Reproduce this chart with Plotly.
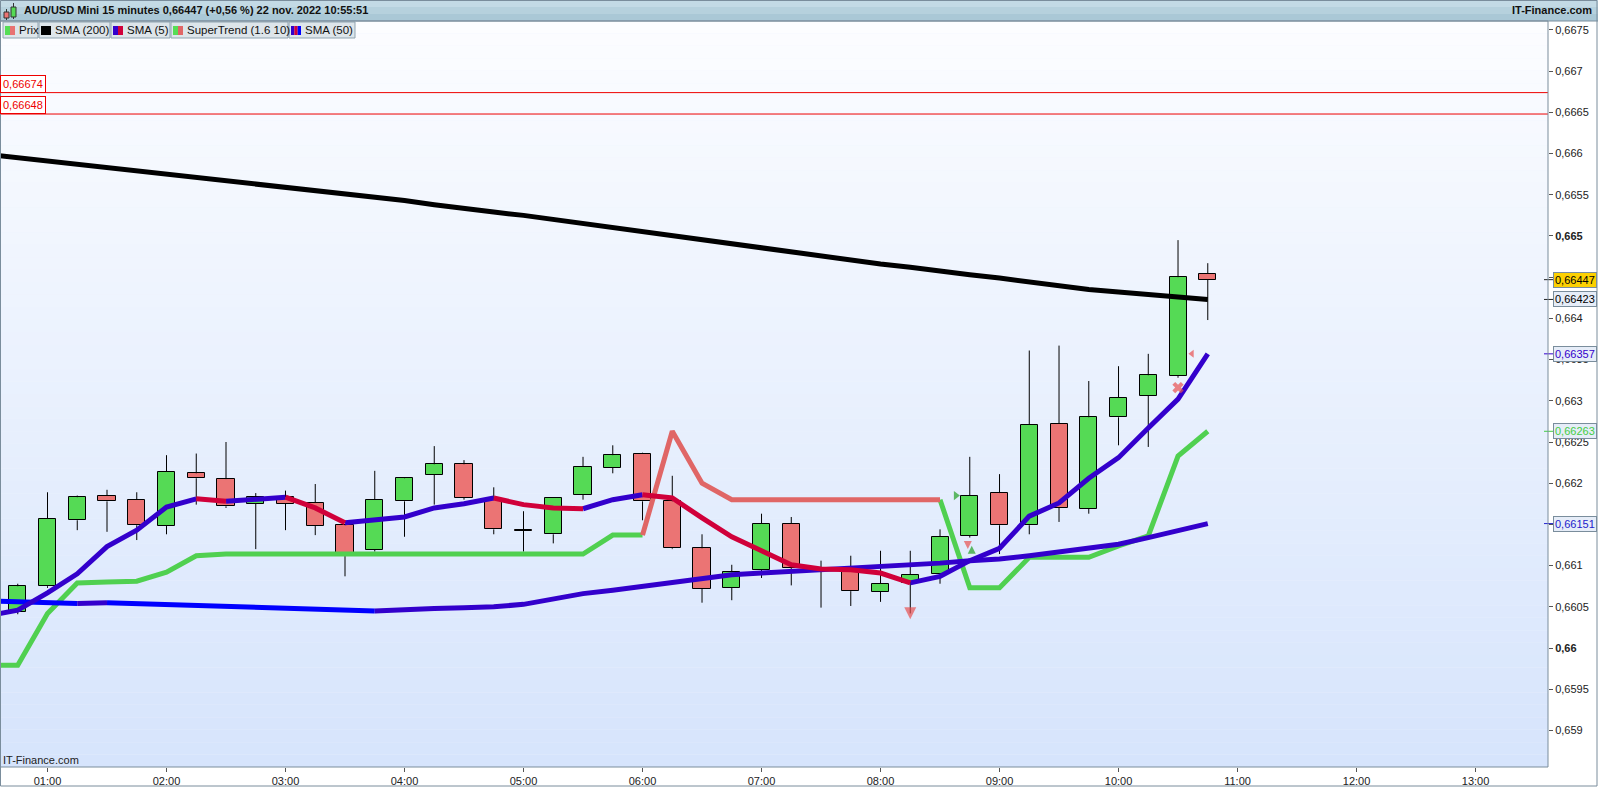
import plotly.graph_objects as go

day = "2022-11-22 "

# --- candles (15 min) ---
candle_times = ["00:45", "01:00", "01:15", "01:30", "01:45", "02:00", "02:15", "02:30", "02:45",
                "03:00", "03:15", "03:30", "03:45", "04:00", "04:15", "04:30", "04:45",
                "05:00", "05:15", "05:30", "05:45", "06:00", "06:15", "06:30", "06:45",
                "07:00", "07:15", "07:30", "07:45", "08:00", "08:15", "08:30", "08:45",
                "09:00", "09:15", "09:30", "09:45", "10:00", "10:15", "10:30", "10:45"]
opens = [0.66044, 0.66075, 0.66155, 0.66185, 0.66180, 0.66148, 0.66212, 0.66205, 0.66175,
         0.66183, 0.66176, 0.66149, 0.66119, 0.66178, 0.66210, 0.66223, 0.66180,
         0.66143, 0.66138, 0.66186, 0.66219, 0.66236, 0.66178, 0.66121, 0.66073,
         0.66095, 0.66151, 0.66095, 0.66093, 0.66068, 0.66079, 0.66090, 0.66136,
         0.66188, 0.66149, 0.66272, 0.66169, 0.66280, 0.66306, 0.66330, 0.66454]
highs = [0.66078, 0.66189, 0.66185, 0.66192, 0.66189, 0.66234, 0.66236, 0.66250, 0.66188,
         0.66191, 0.66199, 0.66150, 0.66215, 0.66207, 0.66245, 0.66228, 0.66195,
         0.66166, 0.66183, 0.66232, 0.66246, 0.66237, 0.66209, 0.66138, 0.66101,
         0.66163, 0.66159, 0.66106, 0.66112, 0.66118, 0.66118, 0.66144, 0.66232,
         0.66211, 0.66361, 0.66367, 0.66324, 0.66342, 0.66357, 0.66495, 0.66467]
lows = [0.66041, 0.66073, 0.66143, 0.66141, 0.66131, 0.66138, 0.66174, 0.66170, 0.66120,
        0.66143, 0.66137, 0.66087, 0.66117, 0.66135, 0.66174, 0.66180, 0.66138,
        0.66117, 0.66127, 0.66180, 0.66212, 0.66155, 0.66120, 0.66055, 0.66058,
        0.66085, 0.66076, 0.66049, 0.66051, 0.66056, 0.66042, 0.66078, 0.66134,
        0.66114, 0.66138, 0.66153, 0.66163, 0.66246, 0.66244, 0.66328, 0.66398]
closes = [0.66075, 0.66157, 0.66183, 0.66178, 0.66149, 0.66214, 0.66206, 0.66172, 0.66183,
          0.66175, 0.66148, 0.66115, 0.66180, 0.66206, 0.66223, 0.66182, 0.66144,
          0.66142, 0.66182, 0.66220, 0.66234, 0.66178, 0.66121, 0.66072, 0.66092,
          0.66151, 0.66097, 0.66094, 0.66069, 0.66078, 0.66089, 0.66135, 0.66185,
          0.66149, 0.66271, 0.66170, 0.66280, 0.66304, 0.66331, 0.66450, 0.66447]

# --- indicators (one extra point before the first candle) ---
ind_times = ["00:30"] + candle_times
sma200 = [0.66599, 0.66595, 0.66591, 0.66587, 0.66583, 0.66580, 0.66576, 0.66572, 0.66568,
          0.66564, 0.66560, 0.66556, 0.66552, 0.66548, 0.66543, 0.66538, 0.66533,
          0.66529, 0.66525, 0.66520, 0.66515, 0.66510, 0.66505, 0.66501, 0.66496,
          0.66491, 0.66486, 0.66481, 0.66476, 0.66471, 0.66466, 0.66462, 0.66457,
          0.66453, 0.66449, 0.66444, 0.66439, 0.66435, 0.66432, 0.66429, 0.66426, 0.66423]
sma5 = [0.66039, 0.66046, 0.66067, 0.66090, 0.66123, 0.66143, 0.66171, 0.66181, 0.66178,
        0.66181, 0.66183, 0.66170, 0.66152, 0.66155, 0.66159, 0.66170, 0.66175,
        0.66182, 0.66174, 0.66170, 0.66169, 0.66180, 0.66186, 0.66182, 0.66158,
        0.66135, 0.66118, 0.66101, 0.66096, 0.66095, 0.66091, 0.66079, 0.66087,
        0.66106, 0.66121, 0.66160, 0.66176, 0.66206, 0.66231, 0.66267, 0.66302, 0.66357]
sma50 = [0.66057, 0.66056, 0.66055, 0.66054, 0.66055, 0.66054, 0.66053, 0.66052, 0.66051,
         0.66050, 0.66049, 0.66048, 0.66047, 0.66045, 0.66047, 0.66048, 0.66049,
         0.66050, 0.66053, 0.66059, 0.66066, 0.66070, 0.66075, 0.66080, 0.66084,
         0.66089, 0.66091, 0.66093, 0.66095, 0.66097, 0.66098, 0.66100, 0.66103,
         0.66106, 0.66108, 0.66112, 0.66117, 0.66121, 0.66126, 0.66134, 0.66142, 0.66151]
supertrend = [0.65979, 0.65979, 0.66042, 0.66079, 0.66080, 0.66081, 0.66092, 0.66112, 0.66114,
              0.66114, 0.66114, 0.66114, 0.66114, 0.66114, 0.66114, 0.66114, 0.66114,
              0.66114, 0.66114, 0.66114, 0.66114, 0.66137, 0.66137, 0.66263, 0.66200,
              0.66180, 0.66180, 0.66180, 0.66180, 0.66180, 0.66180, 0.66180, 0.66180,
              0.66073, 0.66073, 0.66110, 0.66110, 0.66110, 0.66124, 0.66136, 0.66233, 0.66263]
st_trend = ["up"] * 23 + ["down"] * 10 + ["up"] * 9

# signals drawn on the chart
sig_times = ["08:15", "08:44", "08:46", "08:38", "10:30", "10:37"]
sig_values = [0.66035, 0.66120, 0.66124, 0.66185, 0.66316, 0.66357]
sig_symbols = ["arrow-down", "arrow-down", "arrow-up", "triangle-right", "x", "triangle-left"]
sig_colors = ["#e85050", "#e85050", "#22a022", "#22a022", "#e85050", "#e85050"]
sig_sizes = [12, 8, 8, 8, 10, 7]

hlines = [0.66674, 0.66648]
hline_labels = ["0,66674", "0,66648"]

y_ticks = [0.659, 0.6595, 0.66, 0.6605, 0.661, 0.6615, 0.662, 0.6625, 0.663, 0.6635,
           0.664, 0.6645, 0.665, 0.6655, 0.666, 0.6665, 0.667, 0.6675]
# 0,6615 and 0,6645 sit fully under the last-value boxes in the original
y_ticktext = ["0,659", "0,6595", "<b>0,66</b>", "0,6605", "0,661", "", "0,662", "0,6625",
              "0,663", "0,6635", "0,664", "", "<b>0,665</b>", "0,6655", "0,666",
              "0,6665", "0,667", "0,6675"]
x_ticks = ["01:00", "02:00", "03:00", "04:00", "05:00", "06:00", "07:00",
           "08:00", "09:00", "10:00", "11:00", "12:00", "13:00"]

last_values = [0.66447, 0.66423, 0.66357, 0.66263, 0.66151]
last_labels = ["0,66447", "0,66423", "0,66357", "0,66263", "0,66151"]
last_colors = ["#000000", "#000000", "#3300cc", "#44cc44", "#2222cc"]
last_bg = ["#fcd000", "#e6edf8", "#e6edf8", "#e6edf8", "#e6edf8"]

FONT = "Liberation Sans, Arial, sans-serif"
W, H = 1598, 787
PL, PR, PT, PB = 0, 1548, 21, 767
GREEN, RED = "#55da55", "#eb7474"


def px(x):
    return (x - PL) / (PR - PL)


def py(y):
    return 1 - (y - PT) / (PB - PT)


def colored_runs(xs, ys, seg_colors):
    runs = {}
    i = 0
    n = len(seg_colors)
    while i < n:
        c = seg_colors[i]
        j = i
        while j + 1 < n and seg_colors[j + 1] == c:
            j += 1
        rx, ry = runs.setdefault(c, ([], []))
        rx.extend(xs[i:j + 2] + [None])
        ry.extend(ys[i:j + 2] + [None])
        i = j + 1
    return runs


cx = [day + t for t in candle_times]
ix = [day + t for t in ind_times]

fig = go.Figure()

# wicks (upper and lower part, so bodies are not crossed)
wx, wy = [], []
for t, o, h, l, c in zip(cx, opens, highs, lows, closes):
    wx += [t, t, None, t, t, None]
    wy += [h, max(o, c), None, min(o, c), l, None]
fig.add_trace(go.Scatter(x=wx, y=wy, mode="lines", line=dict(color="#000000", width=1),
                         hoverinfo="skip", showlegend=False))

# bodies
fig.add_trace(go.Bar(x=cx, y=[abs(c - o) for o, c in zip(opens, closes)],
                     base=[min(o, c) for o, c in zip(opens, closes)],
                     width=516000,
                     marker=dict(color=[GREEN if c >= o else RED for o, c in zip(opens, closes)],
                                 line=dict(color="#000000", width=1)),
                     showlegend=False, name="Prix"))

# SMA 200
fig.add_trace(go.Scatter(x=ix, y=sma200, mode="lines", line=dict(color="#000000", width=5),
                         showlegend=False, name="SMA (200)"))

# SuperTrend
st_cols = ["#50d050" if tr == "up" else "#e06666" for tr in st_trend[1:]]
for col, (rx, ry) in colored_runs(ix, supertrend, st_cols).items():
    fig.add_trace(go.Scatter(x=rx, y=ry, mode="lines", line=dict(color=col, width=5),
                             showlegend=False, name="SuperTrend"))

# SMA 50
s50_cols = ["#3300cc" if b >= a else "#0000ff" for a, b in zip(sma50[:-1], sma50[1:])]
for col, (rx, ry) in colored_runs(ix, sma50, s50_cols).items():
    fig.add_trace(go.Scatter(x=rx, y=ry, mode="lines", line=dict(color=col, width=5),
                             showlegend=False, name="SMA (50)"))

# SMA 5
s5_cols = ["#3300cc" if b >= a else "#d0003a" for a, b in zip(sma5[:-1], sma5[1:])]
for col, (rx, ry) in colored_runs(ix, sma5, s5_cols).items():
    fig.add_trace(go.Scatter(x=rx, y=ry, mode="lines", line=dict(color=col, width=5),
                             showlegend=False, name="SMA (5)"))

# signals
fig.add_trace(go.Scatter(x=[day + t for t in sig_times], y=sig_values, mode="markers",
                         marker=dict(symbol=sig_symbols, color=sig_colors, size=sig_sizes,
                                     line=dict(width=0)),
                         showlegend=False, hoverinfo="skip"))

shapes = []
annotations = []

# background gradient of the plot area
n_bands = 60
top_c, bot_c = (252, 253, 255), (214, 228, 252)
for k in range(n_bands):
    f = (k + 0.5) / n_bands
    col = tuple(round(top_c[j] + (bot_c[j] - top_c[j]) * f) for j in range(3))
    shapes.append(dict(type="rect", xref="paper", yref="paper", x0=0, x1=1,
                       y0=1 - (k + 1) / n_bands, y1=1 - k / n_bands,
                       fillcolor="rgb(%d,%d,%d)" % col, line=dict(width=0), layer="below"))

# horizontal red levels
for v, lab in zip(hlines, hline_labels):
    shapes.append(dict(type="line", xref="paper", yref="y", x0=0, x1=1, y0=v, y1=v,
                       line=dict(color="#ee0000", width=1)))
    annotations.append(dict(xref="paper", yref="y", x=0, y=v, xanchor="left", yanchor="bottom",
                            text=lab, showarrow=False, font=dict(family=FONT, size=11, color="#ee0000"),
                            bgcolor="#ffffff", bordercolor="#ee0000", borderwidth=1, borderpad=2))

# header bar
hdr_cols = ["#c3dae5", "#b6d1dd", "#aac8d6"]
for k, col in enumerate(hdr_cols):
    shapes.append(dict(type="rect", xref="paper", yref="paper", x0=px(0), x1=px(W),
                       y0=py(21 * (k + 1) / 3), y1=py(21 * k / 3),
                       fillcolor=col, line=dict(width=0)))
shapes.append(dict(type="line", xref="paper", yref="paper", x0=px(0), x1=px(W),
                   y0=py(21), y1=py(21), line=dict(color="#7a8d9c", width=1)))
# header icon (two tiny candles)
shapes.append(dict(type="line", xref="paper", yref="paper", x0=px(6.5), x1=px(6.5),
                   y0=py(20), y1=py(9), line=dict(color="#333333", width=1)))
shapes.append(dict(type="rect", xref="paper", yref="paper", x0=px(4), x1=px(9),
                   y0=py(18), y1=py(12), fillcolor=RED, line=dict(color="#333333", width=1)))
shapes.append(dict(type="line", xref="paper", yref="paper", x0=px(13.5), x1=px(13.5),
                   y0=py(19), y1=py(3), line=dict(color="#333333", width=1)))
shapes.append(dict(type="rect", xref="paper", yref="paper", x0=px(11), x1=px(16),
                   y0=py(17), y1=py(7), fillcolor=GREEN, line=dict(color="#333333", width=1)))

annotations.append(dict(xref="paper", yref="paper", x=px(22), y=py(10.5), xanchor="left",
                        yanchor="middle", showarrow=False,
                        text="<b>AUD/USD Mini 15 minutes 0,66447 (+0,56 %) 22 nov. 2022 10:55:51</b>",
                        font=dict(family=FONT, size=11, color="#111111")))
annotations.append(dict(xref="paper", yref="paper", x=px(1594), y=py(10.5), xanchor="right",
                        yanchor="middle", showarrow=False, text="<b>IT-Finance.com</b>",
                        font=dict(family=FONT, size=11, color="#111111")))

# legend row
legend_items = [("Prix", 3, 38, ["#55dd55", "#e87272"]),
                ("SMA (200)", 39, 110, ["#000000"]),
                ("SMA (5)", 111, 170, ["#3300cc", "#d0003a"]),
                ("SuperTrend (1.6 10)", 171, 288, ["#55dd55", "#e06666"]),
                ("SMA (50)", 289, 355, ["#3300cc", "#d0003a", "#0000ff"])]
for lab, x0, x1, cols in legend_items:
    shapes.append(dict(type="rect", xref="paper", yref="paper", x0=px(x0), x1=px(x1),
                       y0=py(38), y1=py(22), fillcolor="#dde5ea",
                       line=dict(color="#8fa3b0", width=1)))
    sw = 10 / len(cols)
    for k, col in enumerate(cols):
        shapes.append(dict(type="rect", xref="paper", yref="paper",
                           x0=px(x0 + 2 + k * sw), x1=px(x0 + 2 + (k + 1) * sw),
                           y0=py(35), y1=py(26), fillcolor=col, line=dict(width=0)))
    annotations.append(dict(xref="paper", yref="paper", x=px(x0 + 14), y=py(30.5),
                            xanchor="left", yanchor="middle", showarrow=False, text=lab,
                            font=dict(family=FONT, size=11.5, color="#111111")))

# watermark
annotations.append(dict(xref="paper", yref="paper", x=px(1), y=py(760), xanchor="left",
                        yanchor="middle", showarrow=False, text="IT-Finance.com",
                        font=dict(family=FONT, size=11, color="#222222")))

# last value boxes on the price axis
for v, lab, col, bg in zip(last_values, last_labels, last_colors, last_bg):
    shapes.append(dict(type="line", xref="paper", yref="y", x0=px(1544), x1=px(1554), y0=v, y1=v,
                       line=dict(color=col if col != "#000000" else "#222222", width=1)))
    annotations.append(dict(xref="paper", yref="y", x=px(1553), y=v, xanchor="left",
                            yanchor="middle", showarrow=False, text=lab,
                            font=dict(family=FONT, size=11, color=col),
                            bgcolor=bg, bordercolor="#7a8d9c", borderwidth=1, borderpad=1))

# frames
shapes.append(dict(type="rect", xref="paper", yref="paper", x0=px(0.5), x1=px(PR),
                   y0=0, y1=1, line=dict(color="#7a8d9c", width=1)))
shapes.append(dict(type="rect", xref="paper", yref="paper", x0=px(0.5), x1=px(W - 1),
                   y0=py(H - 1), y1=py(0.5), line=dict(color="#7a8d9c", width=1)))

fig.update_layout(
    width=W, height=H,
    margin=dict(l=PL, r=W - PR, t=PT, b=H - PB, pad=0),
    paper_bgcolor="#ffffff", plot_bgcolor="#eef3fd",
    font=dict(family=FONT, size=11, color="#222222"),
    showlegend=False, bargap=0,
    shapes=shapes, annotations=annotations,
    xaxis=dict(type="date", range=[day + "00:36:03", day + "13:36:32"],
               tickvals=[day + t for t in x_ticks], ticktext=x_ticks,
               ticks="outside", ticklen=4, tickcolor="#555555",
               showgrid=False, zeroline=False, showline=False, automargin=False,
               tickfont=dict(family=FONT, size=11, color="#222222"), fixedrange=True),
    yaxis=dict(side="right", range=[0.658556, 0.667609],
               tickvals=y_ticks, ticktext=y_ticktext,
               ticks="outside", ticklen=4, tickcolor="#555555",
               showgrid=False, zeroline=False, showline=False, automargin=False,
               tickfont=dict(family=FONT, size=11, color="#222222"), fixedrange=True),
)

fig.write_html("out.html", config={"displayModeBar": False},
               post_script="document.body.style.margin='0';")
